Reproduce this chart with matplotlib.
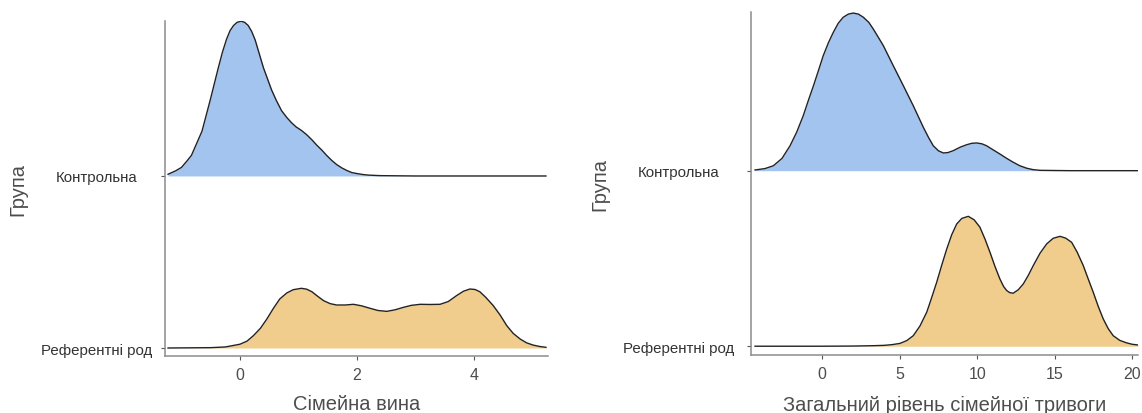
import numpy as np
import matplotlib
matplotlib.use('Agg')
import matplotlib.pyplot as plt

plt.rcParams['font.family'] = ['Liberation Sans', 'DejaVu Sans']

groups = ['Референтні род', 'Контрольна']
fill_colors = ['#f0cd8c', '#a4c4f0']

# Сімейна вина: density heights (ridge units)
guilt_ctrl_x = [-1.23, -1.1, -1.0, -0.9, -0.83, -0.74, -0.65, -0.58, -0.51, -0.44,
                -0.37, -0.30, -0.23, -0.17, -0.11, -0.05, 0.02, 0.08, 0.14, 0.20,
                0.26, 0.33, 0.40, 0.47, 0.54, 0.62, 0.71, 0.80, 0.88, 0.96,
                1.05, 1.14, 1.23, 1.31, 1.40, 1.48, 1.57, 1.65, 1.74, 1.82,
                1.91, 2.0, 2.11, 2.2, 2.4, 3.0, 4.0, 5.23]
guilt_ctrl_h = [0.01, 0.03, 0.05, 0.09, 0.12, 0.19, 0.26, 0.35, 0.44, 0.535,
                0.63, 0.72, 0.795, 0.845, 0.875, 0.893, 0.90, 0.893, 0.875, 0.84,
                0.79, 0.71, 0.63, 0.565, 0.50, 0.44, 0.38, 0.34, 0.31, 0.285,
                0.265, 0.24, 0.21, 0.18, 0.15, 0.12, 0.09, 0.067, 0.047, 0.033,
                0.02, 0.014, 0.008, 0.005, 0.002, 0.0, 0.0, 0.0]
guilt_ref_x = [-1.23, -0.5, -0.25, 0.0, 0.12, 0.23, 0.35, 0.46, 0.57, 0.68,
               0.80, 0.91, 1.05, 1.14, 1.23, 1.33, 1.43, 1.54, 1.65, 1.80,
               1.94, 2.08, 2.22, 2.36, 2.51, 2.65, 2.79, 2.93, 3.08, 3.25,
               3.42, 3.56, 3.70, 3.82, 3.93, 4.02, 4.10, 4.20, 4.33, 4.45,
               4.56, 4.67, 4.79, 4.90, 5.01, 5.12, 5.23]
guilt_ref_h = [0.0, 0.002, 0.006, 0.022, 0.04, 0.072, 0.115, 0.169, 0.23, 0.285,
               0.32, 0.339, 0.347, 0.342, 0.327, 0.30, 0.275, 0.258, 0.25, 0.25,
               0.254, 0.245, 0.231, 0.218, 0.213, 0.222, 0.236, 0.248, 0.254, 0.253,
               0.254, 0.27, 0.304, 0.33, 0.343, 0.34, 0.327, 0.295, 0.246, 0.19,
               0.13, 0.085, 0.052, 0.03, 0.017, 0.009, 0.004]

# Загальний рівень сімейної тривоги
anx_ctrl_x = [-4.34, -3.7, -3.16, -2.6, -2.08, -1.65, -1.23, -0.9, -0.57, -0.25,
              0.06, 0.4, 0.71, 1.03, 1.35, 1.68, 2.0, 2.33, 2.65, 3.0,
              3.29, 3.6, 3.94, 4.58, 5.23, 5.87, 6.52, 6.85, 7.16, 7.5,
              7.81, 8.1, 8.45, 8.9, 9.32, 9.65, 9.96, 10.3, 10.6, 11.0,
              11.46, 11.9, 12.32, 12.75, 13.19, 13.6, 14.05, 16.0, 20.37]
anx_ctrl_h = [0.004, 0.012, 0.028, 0.07, 0.142, 0.22, 0.313, 0.40, 0.484, 0.57,
              0.655, 0.73, 0.788, 0.84, 0.874, 0.892, 0.898, 0.892, 0.874, 0.845,
              0.807, 0.762, 0.712, 0.598, 0.484, 0.37, 0.247, 0.19, 0.142, 0.113,
              0.101, 0.103, 0.114, 0.134, 0.148, 0.156, 0.158, 0.153, 0.142, 0.12,
              0.095, 0.07, 0.048, 0.028, 0.014, 0.006, 0.002, 0.0, 0.0]
anx_ref_x = [-4.34, 0.0, 2.0, 3.3, 4.0, 4.5, 5.01, 5.45, 5.87, 6.3,
             6.74, 7.05, 7.38, 7.7, 8.03, 8.35, 8.67, 9.0, 9.42, 9.8,
             10.17, 10.5, 10.82, 11.14, 11.46, 11.7, 11.9, 12.1, 12.32, 12.65,
             12.97, 13.3, 13.61, 14.05, 14.48, 14.9, 15.34, 15.7, 16.09, 16.45,
             16.84, 17.15, 17.48, 17.8, 18.13, 18.45, 18.77, 19.2, 19.64, 20.0,
             20.37]
anx_ref_h = [0.0, 0.0, 0.001, 0.003, 0.005, 0.009, 0.016, 0.032, 0.06, 0.115,
             0.194, 0.275, 0.364, 0.46, 0.554, 0.635, 0.696, 0.728, 0.74, 0.72,
             0.678, 0.61, 0.535, 0.455, 0.383, 0.34, 0.317, 0.305, 0.302, 0.322,
             0.355, 0.405, 0.459, 0.53, 0.583, 0.615, 0.626, 0.616, 0.592, 0.535,
             0.459, 0.385, 0.308, 0.228, 0.155, 0.10, 0.06, 0.033, 0.019, 0.011,
             0.007]

xlabels = ['Сімейна вина', 'Загальний рівень сімейної тривоги']
xticks = [[0, 2, 4], [0, 5, 10, 15, 20]]

W, H = 1142, 414
fig = plt.figure(figsize=(W / 100, H / 100), dpi=100)

# panel boxes in pixels: left, right, top, bottom
boxes = [(165, 548, 22, 357), (751, 1138, 13, 356)]
xlims = [(-1.282, 5.265), (-4.6, 20.37)]
ylims = [(-0.0465, 1.901), (-0.05, 1.904)]
curves = [[(guilt_ref_x, guilt_ref_h), (guilt_ctrl_x, guilt_ctrl_h)],
          [(anx_ref_x, anx_ref_h), (anx_ctrl_x, anx_ctrl_h)]]
label_center = [97.5, 679.5]
ylab_x = [18, 600]

for i in range(2):
    l, r, t, b = boxes[i]
    ax = fig.add_axes([l / W, 1 - b / H, (r - l) / W, (b - t) / H])
    for k in range(2):
        x, h = curves[i][k]
        x = np.array(x)
        yy = k + np.array(h)
        ax.fill_between(x, k, yy, color=fill_colors[k], lw=0, zorder=2 + 2 * k)
        ax.plot(x, yy, color='#222222', lw=1.0, zorder=3 + 2 * k,
                solid_joinstyle='round')
    ax.set_xlim(*xlims[i])
    ax.set_ylim(*ylims[i])
    ax.set_xticks(xticks[i])
    ax.set_yticks([0, 1])
    ax.set_yticklabels(groups, ha='center')
    pad_px = (l - 3) - label_center[i]
    ax.tick_params(axis='y', length=3, width=0.8, color='#555555', pad=pad_px * 0.72,
                   labelsize=10.8, labelcolor='#333333')
    ax.tick_params(axis='x', length=3, width=0.8, color='#555555', pad=5,
                   labelsize=11.5, labelcolor='#4d4d4d')
    for s in ['top', 'right']:
        ax.spines[s].set_visible(False)
    for s in ['left', 'bottom']:
        ax.spines[s].set_color('#8c8c8c')
        ax.spines[s].set_linewidth(1.1)
    ax.set_xlabel(xlabels[i], fontsize=14.5, color='#4d4d4d', va='center')
    ax.xaxis.set_label_coords(0.5, -(405 - b) / (b - t))
    ax.set_ylabel('Група', fontsize=14.5, color='#4d4d4d', va='center')
    ax.yaxis.set_label_coords(-(l - ylab_x[i]) / (r - l), 0.5)

fig.savefig('out.png', dpi=100)
